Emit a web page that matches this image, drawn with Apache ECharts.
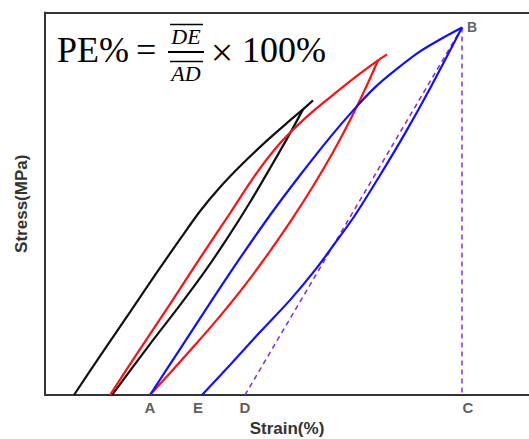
<!DOCTYPE html>
<html>
<head>
<meta charset="utf-8">
<script src="https://cdn.jsdelivr.net/npm/echarts@6/dist/echarts.min.js"></script>
<style>
  html, body { margin: 0; padding: 0; background: #fff; }
  #chart { width: 529px; height: 439px; }
</style>
</head>
<body>
<div id="chart"></div>
<script>
// ─── Data (strain / stress, arbitrary units) ───
const blackLoadStrain   = [29, 55, 85, 110, 135, 155, 175, 195, 220, 245, 258, 268];
const blackLoadStress   = [0, 39, 83, 120, 156, 184, 208, 229, 253, 275, 286, 295];
const blackUnloadStrain = [258, 245, 225, 205, 183, 160, 135, 105, 67];
const blackUnloadStress = [286, 262, 227, 193, 158, 124, 90, 51, 0];

const redLoadStrain   = [65, 95, 125, 155, 185, 210, 235, 260, 285, 310, 333, 342];
const redLoadStress   = [0, 46, 91, 137, 182, 220, 252, 277, 298, 318, 335, 341];
const redUnloadStrain = [333, 320, 305, 288, 268, 245, 225, 200, 175, 150, 125, 105];
const redUnloadStress = [335, 306, 275, 243, 209, 173, 144, 110, 79, 50, 22, 0];

const blueLoadStrain   = [105, 135, 165, 195, 225, 255, 285, 310, 330, 350, 375, 395, 417];
const blueLoadStress   = [0, 46, 92, 137, 180, 220, 258, 287, 308, 325, 344, 356, 368];
const blueUnloadStrain = [417, 385, 360, 335, 310, 290, 270, 245, 215, 185, 157];
const blueUnloadStress = [368, 307, 262, 220, 180, 152, 125, 95, 63, 30, 0];

// dashed construction lines: D -> B and B -> C
const guideDBStrain = [200, 417];
const guideDBStress = [0, 368];
const guideBCStrain = [417, 417];
const guideBCStress = [368, 0];

// point labels on the strain axis and at the peak
const pointNames  = ["A", "E", "D", "C"];
const pointStrain = [105, 156, 200, 417];
const peakName = "B";
const peakStrain = 417;
const peakStress = 368;

const X_MAX = 484;
const Y_MAX = 383;

const zip = (xs, ys) => xs.map((x, i) => [x, ys[i]]);

const COLORS = { black: "#111111", red: "#ff1010", blue: "#1010ff", guide: "#8a2be2", axis: "#333333" };

function curve(name, xs, ys, color) {
  return {
    type: "line",
    name,
    data: zip(xs, ys),
    showSymbol: false,
    smooth: 0.3,
    lineStyle: { color, width: 2.2 },
    z: 3,
  };
}

function guide(xs, ys) {
  return {
    type: "line",
    data: zip(xs, ys),
    showSymbol: false,
    lineStyle: { color: COLORS.guide, width: 1.5, type: [5, 4] },
    z: 2,
  };
}

const sans = "Liberation Sans, Arial, sans-serif";
const serif = "Liberation Serif, Times New Roman, serif";
const labelFont = { fontFamily: sans, fontWeight: "bold", fontSize: 15, color: COLORS.axis };
const nameFont = { fontFamily: sans, fontWeight: "bold", fontSize: 16, color: COLORS.axis };
const frameLine = { show: true, onZero: false, lineStyle: { color: COLORS.axis, width: 2 } };
const hidden = { axisTick: { show: false }, axisLabel: { show: false }, splitLine: { show: false } };

const chart = echarts.init(document.getElementById("chart"), null, { renderer: "svg" });

chart.setOption({
  animation: false,
  backgroundColor: "#fff",
  grid: { left: 45, top: 12.5, right: 0, bottom: 44, outerBoundsMode: "none", containLabel: false },
  xAxis: [
    {
      type: "value", min: 0, max: X_MAX, position: "bottom",
      axisLine: frameLine, ...hidden,
      name: "Strain(%)", nameLocation: "middle", nameGap: 25, nameTextStyle: { ...nameFont, fontSize: 17 },
    },
    { type: "value", min: 0, max: X_MAX, position: "top", axisLine: frameLine, ...hidden },
  ],
  yAxis: {
    type: "value", min: 0, max: Y_MAX,
    axisLine: frameLine, ...hidden,
    name: "Stress(MPa)", nameLocation: "middle", nameGap: 15, nameTextStyle: { ...nameFont, fontSize: 17 },
  },
  series: [
    guide(guideDBStrain, guideDBStress),
    guide(guideBCStrain, guideBCStress),
    curve("black-load", blackLoadStrain, blackLoadStress, COLORS.black),
    curve("black-unload", blackUnloadStrain, blackUnloadStress, COLORS.black),
    curve("red-load", redLoadStrain, redLoadStress, COLORS.red),
    curve("red-unload", redUnloadStrain, redUnloadStress, COLORS.red),
    curve("blue-load", blueLoadStrain, blueLoadStress, COLORS.blue),
    curve("blue-unload", blueUnloadStrain, blueUnloadStress, COLORS.blue),
    {
      type: "scatter",
      symbolSize: 0,
      silent: true,
      data: pointNames.map((n, i) => ({
        value: [pointStrain[i], 0],
        label: { offset: n === "C" ? [6, 0] : n === "E" ? [-3, 0] : [0, 0] },
        name: n,
      })),
      label: { show: true, position: "bottom", distance: 5, formatter: (p) => p.name, ...labelFont },
    },
    {
      type: "scatter",
      symbolSize: 0,
      silent: true,
      data: [{ value: [peakStrain, peakStress], name: peakName }],
      label: { show: true, position: "right", distance: 5, formatter: (p) => p.name, ...labelFont, fontSize: 14 },
    },
  ],
  graphic: [
    { type: "text", left: 57, top: 32, style: { text: "PE%", font: `36px ${serif}`, fill: "#000" } },
    { type: "text", left: 136, top: 32, style: { text: "=", font: `36px ${serif}`, fill: "#000" } },
    { type: "text", x: 186, y: 36, style: { text: "DE", font: `italic 22px ${serif}`, fill: "#000", align: "center", verticalAlign: "middle" } },
    { type: "line", shape: { x1: 170, y1: 24.5, x2: 203, y2: 24.5 }, style: { stroke: "#000", lineWidth: 1.5 } },
    { type: "line", shape: { x1: 168, y1: 52, x2: 204, y2: 52 }, style: { stroke: "#000", lineWidth: 2 } },
    { type: "text", x: 186, y: 73, style: { text: "AD", font: `italic 22px ${serif}`, fill: "#000", align: "center", verticalAlign: "middle" } },
    { type: "line", shape: { x1: 170, y1: 61.5, x2: 203, y2: 61.5 }, style: { stroke: "#000", lineWidth: 1.5 } },
    { type: "text", x: 222, y: 52, style: { text: "×", font: `40px ${serif}`, fill: "#000", align: "center", verticalAlign: "middle" } },
    { type: "text", left: 242, top: 32, style: { text: "100%", font: `36px ${serif}`, fill: "#000" } },
  ],
});
</script>
</body>
</html>
